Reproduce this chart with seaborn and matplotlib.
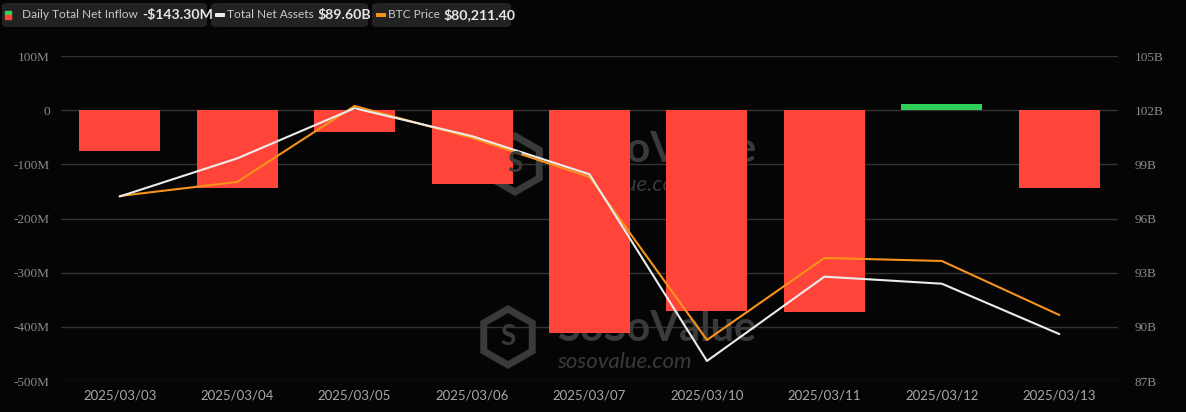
import numpy as np
import pandas as pd
import matplotlib
matplotlib.use("Agg")
import matplotlib.pyplot as plt
from matplotlib.patches import FancyBboxPatch, Rectangle, Polygon
import seaborn as sns

dates = ["2025/03/03", "2025/03/04", "2025/03/05", "2025/03/06", "2025/03/07",
         "2025/03/10", "2025/03/11", "2025/03/12", "2025/03/13"]
net_inflow_m = [-75.0, -144.0, -39.5, -135.5, -411.0, -370.0, -372.0, 11.0, -143.3]
net_assets_b = [97.22, 99.33, 102.11, 100.56, 98.45, 88.11, 92.78, 92.39, 89.60]
btc_price = [86126, 86822, 90600, 89008, 87070, 78969, 83044, 82895, 80211.40]

left_ticks = [100, 0, -100, -200, -300, -400, -500]
left_labels = ["100M", "0", "-100M", "-200M", "-300M", "-400M", "-500M"]
right_ticks = [105, 102, 99, 96, 93, 90, 87]
right_labels = ["105B", "102B", "99B", "96B", "93B", "90B", "87B"]

BG = "#050505"
RED = "#ff4539"
GREEN = "#2fd158"
WHITE = "#ececec"
ORANGE = "#f7931a"
WM = "#3a3a3a"
W, H = 1186, 412

df = pd.DataFrame({"date": dates, "inflow": net_inflow_m})
df["sign"] = np.where(df["inflow"] >= 0, "pos", "neg")
x = np.arange(len(dates))

sns.set_theme(style="dark")
plt.rcParams["font.family"] = ["Lato", "DejaVu Sans"]

fig = plt.figure(figsize=(11.86, 4.12), dpi=100, facecolor=BG)
ax = fig.add_axes([0.0514, 0.0752, 0.8913, 0.7888], facecolor=BG)

for v in left_ticks:
    ax.axhline(v, color="#333333", lw=1, zorder=0)

# faint watermark (behind the bars)
for y_big, y_small, (cx, cy) in [(0.71, 0.602, (515, 164)), (0.16, 0.06, (508, 337))]:
    ax.text(0.469, y_big, "SoSoValue", transform=ax.transAxes, fontsize=30,
            fontweight="bold", color=WM, ha="left", va="center", zorder=0.5)
    ax.text(0.469, y_small, "sosovalue.com", transform=ax.transAxes, fontsize=16,
            fontstyle="italic", color=WM, ha="left", va="center", zorder=0.5)
    ang = np.deg2rad(np.arange(6) * 60 + 90)
    r = 28
    verts = [((cx + r * np.cos(a)) / W, 1 - (cy - r * np.sin(a)) / H) for a in ang]
    hexa = Polygon(verts, closed=True, facecolor="none", edgecolor=WM, lw=5,
                   transform=fig.transFigure, zorder=0.5, clip_on=False)
    ax.add_patch(hexa)
    fig.text(cx / W, 1 - cy / H, "S", fontsize=20, fontweight="bold", color=WM,
             ha="center", va="center", zorder=0.5)

sns.barplot(data=df, x="date", y="inflow", hue="sign",
            palette={"neg": RED, "pos": GREEN}, dodge=False, width=0.69,
            legend=False, ax=ax, zorder=2, saturation=1, linewidth=0,
            edgecolor="none")

ax.set_xlim(-0.5, len(dates) - 0.5)
ax.set_ylim(-500, 100)
ax.set_yticks(left_ticks)
ax.set_yticklabels(left_labels, family="Liberation Serif", fontsize=9.5, color="#8a8a8a")
ax.set_xticks(x)
ax.set_xticklabels(dates, fontsize=9.5, color="#a8a8a8")
ax.tick_params(axis="y", length=0, pad=8)
ax.tick_params(axis="x", length=0, pad=6)
ax.set_xlabel("")
ax.set_ylabel("")
ax.grid(False)
for s in ax.spines.values():
    s.set_visible(False)

ax_btc = ax.twinx()
sns.lineplot(x=x, y=btc_price, ax=ax_btc, color=ORANGE, lw=1.5)
ax_btc.set_ylim(76930, 93080)
ax_btc.axis("off")

ax2 = ax.twinx()
sns.lineplot(x=x, y=net_assets_b, ax=ax2, color=WHITE, lw=1.5)
ax2.set_ylim(87, 105)
ax2.set_yticks(right_ticks)
ax2.set_yticklabels(right_labels, family="Liberation Serif", fontsize=9.5, color="#8a8a8a")
ax2.tick_params(axis="y", length=0, pad=12)
ax2.grid(False)
for s in ax2.spines.values():
    s.set_visible(False)
ax2.set_xlim(-0.5, len(dates) - 0.5)

# header legend boxes
boxes = [
    (2, 207, "Daily Total Net Inflow", "-$143.30M"),
    (211, 368, "Total Net Assets", "$89.60B"),
    (372, 511, "BTC Price", "$80,211.40"),
]
for i, (x0, x1, label, value) in enumerate(boxes):
    fig.patches.append(FancyBboxPatch((x0 / W, 1 - 27 / H), (x1 - x0) / W, 24 / H,
                                      boxstyle="round,pad=0,rounding_size=0.006",
                                      transform=fig.transFigure, facecolor="#222222",
                                      edgecolor="none"))
    ty = 1 - 15 / H
    if i == 0:
        fig.patches.append(Rectangle((5 / W, 1 - 15 / H), 6 / W, 4 / H,
                                     transform=fig.transFigure, color=GREEN))
        fig.patches.append(Rectangle((5 / W, 1 - 19 / H), 6 / W, 4 / H,
                                     transform=fig.transFigure, color=RED))
        tx = x0 + 20
    else:
        col = WHITE if i == 1 else ORANGE
        fig.patches.append(FancyBboxPatch(((x0 + 4) / W, 1 - 17 / H), 10 / W, 4 / H,
                                          boxstyle="round,pad=0,rounding_size=0.001",
                                          transform=fig.transFigure, facecolor=col,
                                          edgecolor="none"))
        tx = x0 + 16
    t = fig.text(tx / W, ty, label, fontsize=8.6, color="#c8c8c8",
                 ha="left", va="center")
    fig.canvas.draw()
    bb = t.get_window_extent()
    fig.text((bb.x1 + 4) / W, ty, value, fontsize=10.2, fontweight="bold",
             color="#e6e6e6", ha="left", va="center")

fig.savefig("out.png", dpi=100, facecolor=BG)
